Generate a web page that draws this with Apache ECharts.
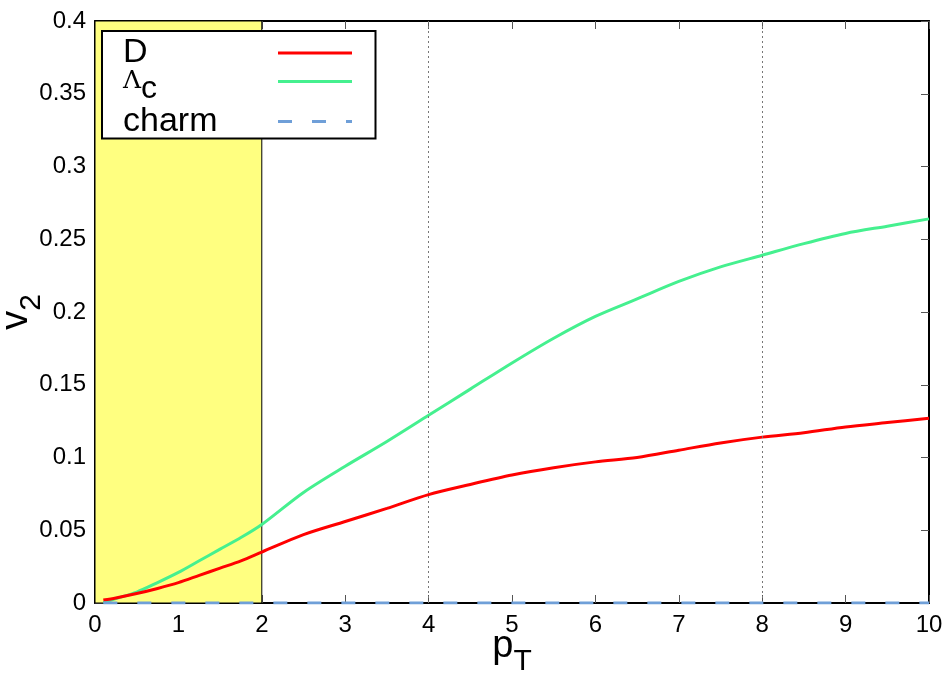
<!DOCTYPE html>
<html>
<head>
<meta charset="utf-8">
<script src="https://cdn.jsdelivr.net/npm/echarts@6/dist/echarts.min.js"></script>
<style>
  html, body { margin: 0; padding: 0; background: #fff; }
  #chart { width: 950px; height: 674px; }
</style>
</head>
<body>
<div id="chart"></div>
<script>
// pT values (x) shared by all curves
var pT = [0.1, 0.25, 0.5, 0.75, 1, 1.25, 1.5, 1.75, 2, 2.5, 3, 3.5, 4, 4.5, 5, 5.5, 6, 6.5, 7, 7.5, 8, 8.5, 9, 9.5, 10];
// v2 of D mesons
var dV2 = [0.002, 0.0035, 0.0065, 0.010, 0.014, 0.019, 0.024, 0.029, 0.035, 0.047, 0.056, 0.065, 0.0745, 0.0815, 0.088, 0.093, 0.097, 0.100, 0.105, 0.110, 0.114, 0.117, 0.121, 0.124, 0.127];
// v2 of Lambda_c
var lcV2 = [0.0003, 0.003, 0.0075, 0.014, 0.021, 0.029, 0.037, 0.045, 0.054, 0.076, 0.094, 0.111, 0.129, 0.147, 0.165, 0.182, 0.197, 0.209, 0.221, 0.231, 0.239, 0.247, 0.254, 0.259, 0.264];
// v2 of charm quarks (flat at zero)
var charmV2 = [0, 0, 0, 0, 0, 0, 0, 0, 0, 0, 0, 0, 0, 0, 0, 0, 0, 0, 0, 0, 0, 0, 0, 0, 0];

var bandRange = [0, 2];   // yellow shaded pT region
var gridLinesX = [4, 8];  // dotted vertical grid lines

function pairs(xs, ys) {
  var out = [];
  for (var i = 0; i < xs.length; i++) out.push([xs[i], ys[i]]);
  return out;
}

var chart = echarts.init(document.getElementById('chart'));
var font = 'Liberation Sans, Arial, Helvetica, sans-serif';

var tickStyle = { show: true, inside: true, length: 8, lineStyle: { color: '#555', width: 1 } };
var boxLine = { show: true, onZero: false, lineStyle: { color: '#000', width: 2 } };

var option = {
  animation: false,
  backgroundColor: '#fff',
  grid: { left: 95, right: 21, top: 21, bottom: 71, containLabel: false, outerBoundsMode: 'none' },
  legend: {
    orient: 'vertical',
    left: 102,
    top: 31,
    align: 'right',
    itemWidth: 74,
    itemHeight: 14,
    itemGap: -1,
    padding: [5, 22, 0, 21],
    backgroundColor: '#fff',
    borderColor: '#000',
    borderWidth: 2,
    borderRadius: 0,
    selectedMode: false,
    lineStyle: { width: 3 },
    itemStyle: { opacity: 0 },
    data: ['D', 'Λc', 'charm'],
    formatter: function (name) {
      if (name === 'Λc') return '{l|Λ}{s|c}';
      return '{n|' + name + '}';
    },
    textStyle: {
      width: 150,
      color: '#000',
      fontFamily: font,
      rich: {
        n: { fontSize: 34, lineHeight: 36, align: 'left', fontFamily: font, color: '#000' },
        l: { fontSize: 25, lineHeight: 29, align: 'left', fontFamily: 'DejaVu Serif, Liberation Serif, serif', color: '#000' },
        s: { fontSize: 32, lineHeight: 29, height: 13, align: 'left', verticalAlign: 'bottom', fontFamily: font, color: '#000' }
      }
    }
  },
  xAxis: [
    {
      type: 'value', min: 0, max: 10, interval: 1, position: 'bottom',
      axisLine: boxLine, axisTick: tickStyle, splitLine: { show: false },
      axisLabel: { fontSize: 24, color: '#000', fontFamily: font, margin: 10 },
      name: '{p|p}{s|T}',
      nameLocation: 'middle',
      nameGap: 14,
      nameMoveOverlap: false,
      nameTextStyle: {
        rich: {
          p: { fontSize: 38, lineHeight: 60, fontFamily: font, color: '#000' },
          s: { fontSize: 30, lineHeight: 25, verticalAlign: 'bottom', fontFamily: font, color: '#000' }
        }
      }
    },
    {
      type: 'value', min: 0, max: 10, interval: 1, position: 'top',
      axisLine: boxLine, axisTick: tickStyle, splitLine: { show: false },
      axisLabel: { show: false }
    }
  ],
  yAxis: [
    {
      type: 'value', min: 0, max: 0.4, interval: 0.05, position: 'left',
      axisLine: boxLine, axisTick: tickStyle, splitLine: { show: false },
      axisLabel: { fontSize: 24, color: '#000', fontFamily: font, margin: 9 },
      name: '{v|v}{s|2}',
      nameLocation: 'middle',
      nameRotate: 90,
      nameGap: 48,
      nameMoveOverlap: false,
      nameTextStyle: {
        rich: {
          v: { fontSize: 38, lineHeight: 60, fontFamily: font, color: '#000' },
          s: { fontSize: 30, lineHeight: 25, verticalAlign: 'bottom', fontFamily: font, color: '#000' }
        }
      }
    },
    {
      type: 'value', min: 0, max: 0.4, interval: 0.05, position: 'right',
      axisLine: boxLine, axisTick: tickStyle, splitLine: { show: false },
      axisLabel: { show: false }
    }
  ],
  series: [
    {
      name: 'D',
      type: 'line',
      xAxisIndex: 0, yAxisIndex: 0,
      data: pairs(pT, dV2),
      smooth: 0.3,
      symbol: 'none',
      lineStyle: { color: '#ff0000', width: 3 },
      itemStyle: { color: '#ff0000' },
      z: 4,
      markArea: {
        silent: true,
        itemStyle: { color: '#ffff80', borderColor: '#000', borderWidth: 1 },
        data: [[{ xAxis: bandRange[0] }, { xAxis: bandRange[1] }]]
      },
      markLine: {
        silent: true,
        symbol: 'none',
        label: { show: false },
        lineStyle: { color: '#777', type: [2, 3], width: 1 },
        data: gridLinesX.map(function (v) { return { xAxis: v }; })
      }
    },
    {
      name: 'Λc',
      type: 'line',
      xAxisIndex: 0, yAxisIndex: 0,
      data: pairs(pT, lcV2),
      smooth: 0.3,
      symbol: 'none',
      lineStyle: { color: '#45f08f', width: 3 },
      itemStyle: { color: '#45f08f' },
      z: 3
    },
    {
      name: 'charm',
      type: 'line',
      xAxisIndex: 0, yAxisIndex: 0,
      data: pairs(pT, charmV2),
      symbol: 'none',
      lineStyle: { color: '#6f9fd8', width: 3, type: [14, 20] },
      itemStyle: { color: '#6f9fd8' },
      z: 5
    }
  ]
};

chart.setOption(option);
</script>
</body>
</html>
